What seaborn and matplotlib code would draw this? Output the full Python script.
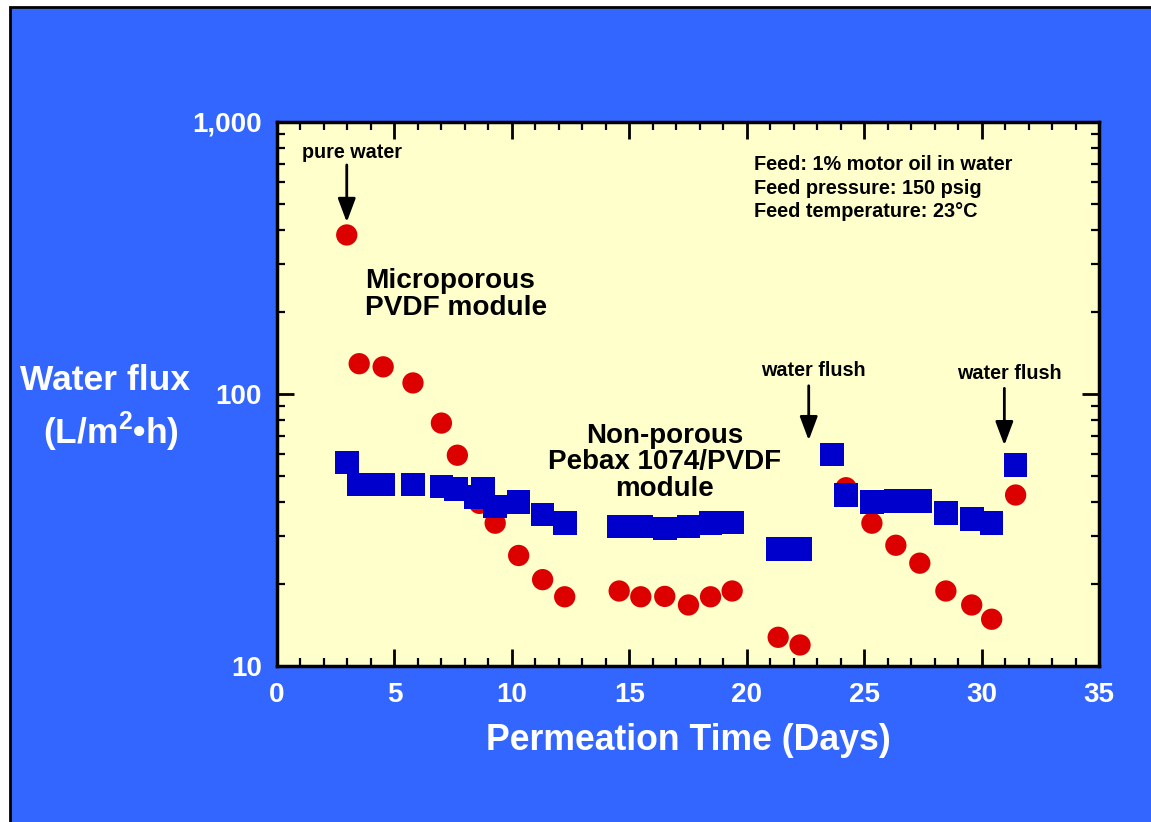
import matplotlib
matplotlib.use("Agg")
import matplotlib.pyplot as plt
import matplotlib.patches as mpatches
from matplotlib.ticker import FixedLocator, LogLocator, NullFormatter
import seaborn as sns
import pandas as pd

# ---- data ----
pvdf_days = [2.97, 3.50, 4.52, 5.79, 7.00, 7.68, 8.62, 9.29, 10.29, 11.31, 12.25,
             14.57, 15.49, 16.51, 17.52, 18.46, 19.38, 21.34, 22.27,
             24.23, 25.33, 26.35, 27.37, 28.48, 29.58, 30.43, 31.45]
pvdf_flux = [384, 129, 125.6, 109.6, 78, 59.4, 39.5, 33.4, 25.4, 20.7, 17.9,
             18.8, 17.9, 17.96, 16.7, 17.9, 18.8, 12.7, 11.9,
             45.1, 33.4, 27.7, 23.8, 18.8, 16.7, 14.8, 42.4]

pebax_days = [2.99, 3.50, 4.52, 5.79, 7.00, 7.63, 8.48, 8.77, 9.29, 10.29, 11.31, 12.25,
              14.57, 15.49, 16.51, 17.52, 18.46, 19.38, 21.34, 22.27,
              23.63, 24.23, 25.33, 26.35, 27.37, 28.48, 29.58, 30.43, 31.45]
pebax_flux = [55.9, 46.3, 46.3, 46.3, 45.6, 44.5, 41.7, 44.6, 38.5, 39.9, 35.9, 33.5,
              32.5, 32.5, 31.9, 32.5, 33.4, 33.6, 26.8, 26.8,
              59.8, 42.5, 39.9, 40.3, 40.3, 36.4, 34.6, 33.4, 54.7]

x_ticks = [0, 5, 10, 15, 20, 25, 30, 35]
y_ticks = [10, 100, 1000]
y_tick_labels = ["10", "100", "1,000"]

sns.set_style("white")
plt.rcParams['font.family'] = ['Liberation Sans', 'DejaVu Sans']
plt.rcParams['font.weight'] = 'bold'
plt.rcParams['text.color'] = 'black'
plt.rcParams['mathtext.fontset'] = 'custom'
plt.rcParams['mathtext.rm'] = 'Liberation Sans:bold'
plt.rcParams['mathtext.bf'] = 'Liberation Sans:bold'

BLUE_BG = "#3366FF"
RED = "#DD0000"
BLUE = "#0000CC"
YELLOW = "#FFFFCC"

W, H = 1151, 822
fig = plt.figure(figsize=(W / 100, H / 100), dpi=100, facecolor="white")

# blue slide background with black border on left/top
bg = mpatches.Rectangle((10 / W, -0.01), 1.1, (H - 7) / H + 0.01, transform=fig.transFigure,
                        facecolor=BLUE_BG, edgecolor="black", linewidth=2, zorder=-10)
fig.patches.append(bg)

L, R, T, B = 277, 1099, 122, 665.5
ax = fig.add_axes([L / W, 1 - B / H, (R - L) / W, (B - T) / H])
ax.set_facecolor(YELLOW)

df_p = pd.DataFrame({"days": pvdf_days, "flux": pvdf_flux})
df_b = pd.DataFrame({"days": pebax_days, "flux": pebax_flux})

sns.scatterplot(data=df_p, x="days", y="flux", ax=ax, color=RED, marker="o",
                s=235, edgecolor="none", linewidth=0, zorder=3)
sns.scatterplot(data=df_b, x="days", y="flux", ax=ax, color=BLUE, marker="s",
                s=290, edgecolor="none", linewidth=0, zorder=4)

ax.set_yscale("log")
ax.set_xlim(0, 35)
ax.set_ylim(10, 1000)
ax.set_xlabel("")
ax.set_ylabel("")

ax.xaxis.set_major_locator(FixedLocator(x_ticks))
ax.xaxis.set_minor_locator(FixedLocator(list(range(0, 36))))
ax.yaxis.set_major_locator(FixedLocator(y_ticks))
ax.yaxis.set_minor_locator(LogLocator(base=10, subs=range(2, 10)))
ax.yaxis.set_minor_formatter(NullFormatter())
ax.set_yticklabels(y_tick_labels)
ax.set_xticklabels([str(t) for t in x_ticks])

ax.tick_params(which="both", direction="in", top=True, right=True, bottom=True, left=True,
               colors="black", labelcolor="white")
ax.tick_params(which="major", length=12, width=2, labelsize=20, pad=12)
ax.tick_params(axis="y", which="major", pad=11)
ax.tick_params(which="minor", length=6, width=1.6)
for lab in ax.get_xticklabels() + ax.get_yticklabels():
    lab.set_fontweight("bold")
for sp in ax.spines.values():
    sp.set_color("black")
    sp.set_linewidth(2.5)
    sp.set_visible(True)

# axis labels
fig.text(688 / W, 1 - 740 / H, "Permeation Time (Days)", color="white", fontsize=25.7,
         fontweight="bold", ha="center", va="center")
fig.text(105 / W, 1 - 380 / H, "Water flux", color="white", fontsize=25.5,
         fontweight="bold", ha="center", va="center")
fig.text(111 / W, 1 - 432 / H, r"(L/m$^{\mathbf{2}}$•h)", color="white", fontsize=25.5,
         fontweight="bold", ha="center", va="center")

# annotations
arrow = dict(arrowstyle="-|>,head_length=0.72,head_width=0.27", color="black", lw=2,
             shrinkA=0, shrinkB=0, mutation_scale=20)
ax.text(3.19, 775, "pure water", fontsize=14.2, fontweight="bold", ha="center", va="center")
ax.annotate("", xy=(2.97, 428), xytext=(2.97, 695), arrowprops=arrow)

ax.text(22.85, 122, "water flush", fontsize=14.2, fontweight="bold", ha="center", va="center")
ax.annotate("", xy=(22.64, 67.4), xytext=(22.64, 107), arrowprops=arrow)

ax.text(31.18, 119, "water flush", fontsize=14.2, fontweight="bold", ha="center", va="center")
ax.annotate("", xy=(30.97, 64.6), xytext=(30.97, 104.7), arrowprops=arrow)

ax.text(3.74, 232.6, "Microporous\nPVDF module", fontsize=20.2, fontweight="bold",
        ha="left", va="center", linespacing=1.05)
ax.text(16.52, 55.9, "Non-porous\nPebax 1074/PVDF\nmodule", fontsize=20, fontweight="bold",
        ha="center", va="center", linespacing=1.03)
ax.text(20.31, 571, "Feed: 1% motor oil in water\nFeed pressure: 150 psig\nFeed temperature: 23°C",
        fontsize=14.3, fontweight="bold", ha="left", va="center", linespacing=1.28)

fig.savefig("out.png", dpi=100, facecolor=fig.get_facecolor())
